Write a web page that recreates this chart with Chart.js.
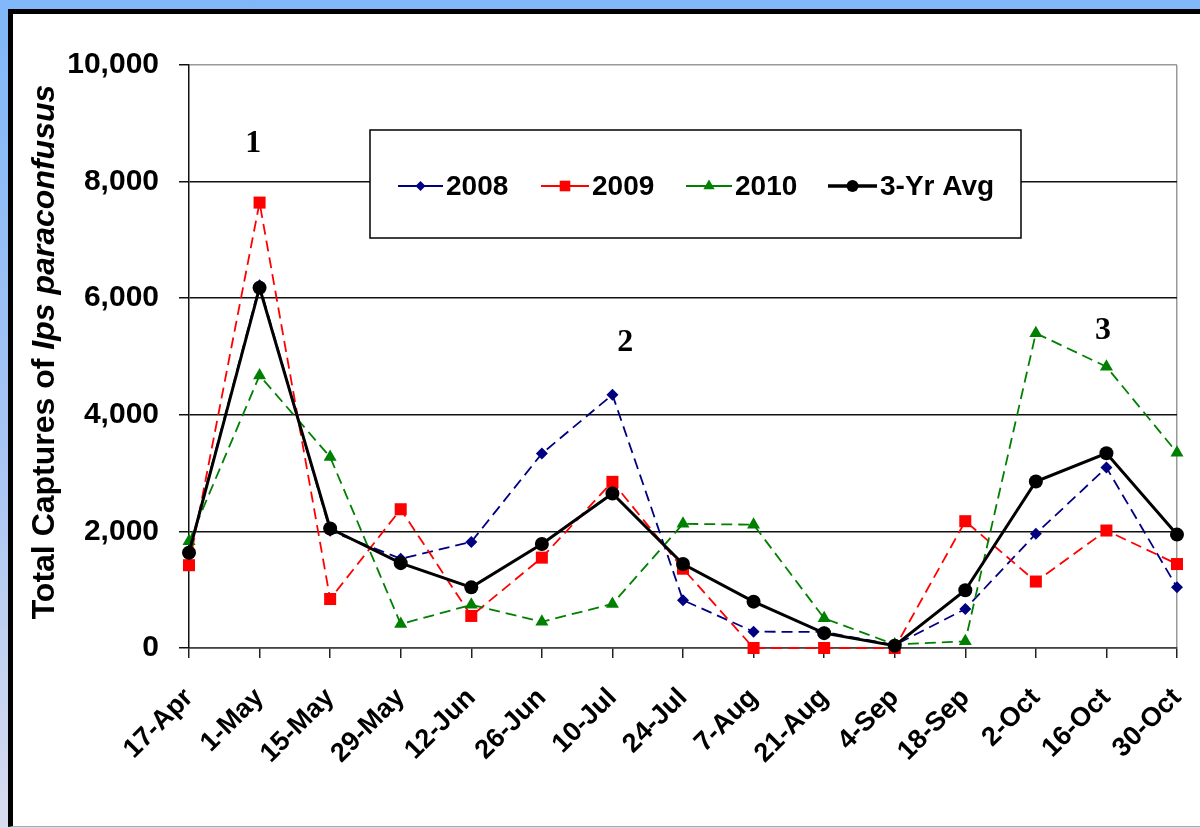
<!DOCTYPE html>
<html>
<head>
<meta charset="utf-8">
<script src="https://cdn.jsdelivr.net/npm/chart.js@4.4.1/dist/chart.umd.min.js"></script>
<style>
  html, body { margin: 0; padding: 0; }
  body {
    width: 1200px; height: 828px; position: relative; overflow: hidden;
    background: linear-gradient(to bottom, #7fb7f8 0%, #a8c5f3 55%, #d8dcef 100%);
  }
  #frame {
    position: absolute; left: 8px; top: 9px; right: 0; bottom: 1px;
    background: #fff; border-left: 5px solid #000; border-top: 5px solid #000;
    border-bottom: 1px solid #aaa;
  }
  #wrap { position: absolute; left: 0; top: 0; width: 1200px; height: 828px; }
</style>
</head>
<body>
<div id="frame"></div>
<div id="wrap"><canvas id="c" width="1200" height="828"></canvas></div>
<script>
const labels = ["17-Apr", "1-May", "15-May", "29-May", "12-Jun", "26-Jun", "10-Jul",
  "24-Jul", "7-Aug", "21-Aug", "4-Sep", "18-Sep", "2-Oct", "16-Oct", "30-Oct"];
const y2008 = [1650, 6220, 2010, 1530, 1820, 3335, 4345, 820, 280, 275, 50, 670, 1960, 3095, 1040];
const y2009 = [1420, 7640, 840, 2380, 550, 1550, 2850, 1360, 0, 0, 0, 2175, 1140, 2015, 1440];
const y2010 = [1830, 4675, 3275, 410, 740, 450, 755, 2130, 2115, 510, 60, 115, 5400, 4825, 3350];
const yAvg = [1635, 6180, 2050, 1455, 1040, 1785, 2650, 1440, 795, 255, 40, 990, 2855, 3340, 1945];
const yTicks = [0, 2000, 4000, 6000, 8000, 10000];

// numbered peaks (category position, value)
const peakText = ["1", "2", "3"];
const peakX = [0.91, 6.18, 12.95];
const peakY = [8650, 5230, 5450];

const FONT = "'Liberation Sans', Arial, sans-serif";
const SERIF = "'Liberation Serif', 'Times New Roman', serif";

const seriesStyle = [
  { label: "2008", color: "#000080", point: "rectRot", r: 6, lw: 1.8, dash: [11, 6] },
  { label: "2009", color: "#ff0000", point: "rect", r: 8.5, lw: 1.8, dash: [11, 6] },
  { label: "2010", color: "#008000", point: "triangle", r: 7.5, lw: 1.8, dash: [11, 6] },
  { label: "3-Yr Avg", color: "#000000", point: "circle", r: 7, lw: 3, dash: [] },
];
const seriesData = [y2008, y2009, y2010, yAvg];

const datasets = seriesStyle.map((s, i) => ({
  label: s.label,
  data: seriesData[i],
  borderColor: s.color,
  backgroundColor: s.color,
  borderWidth: s.lw,
  borderDash: s.dash,
  pointStyle: s.point,
  pointRadius: s.r,
  pointBorderWidth: 0,
  pointBackgroundColor: s.color,
  tension: 0,
  clip: false,
  order: 3 - i,
}));

const extras = {
  id: "extras",
  afterDraw(chart) {
    const ctx = chart.ctx;
    const xs = chart.scales.x, ys = chart.scales.y;
    ctx.save();

    // axis title with italic species name
    const a = "Total Captures of ", b = "Ips paraconfusus";
    ctx.translate(45, 352);
    ctx.rotate(-Math.PI / 2);
    ctx.fillStyle = "#000";
    ctx.textBaseline = "middle";
    ctx.font = "bold 32px " + FONT;
    const wa = ctx.measureText(a).width;
    ctx.font = "italic bold 32px " + FONT;
    const wb = ctx.measureText(b).width;
    let x0 = -(wa + wb) / 2;
    ctx.font = "bold 32px " + FONT;
    ctx.fillText(a, x0, 0);
    ctx.font = "italic bold 32px " + FONT;
    ctx.fillText(b, x0 + wa, 0);
    ctx.setTransform(1, 0, 0, 1, 0, 0);

    // peak numbers
    ctx.font = "bold 32px " + SERIF;
    ctx.textAlign = "center";
    ctx.textBaseline = "middle";
    peakText.forEach((t, i) => {
      ctx.fillText(t, xs.getPixelForValue(peakX[i]), ys.getPixelForValue(peakY[i]));
    });

    // legend box
    const bx = 370, by = 130, bw = 651, bh = 108, cy = 186;
    ctx.fillStyle = "#fff";
    ctx.fillRect(bx, by, bw, bh);
    ctx.strokeStyle = "#000";
    ctx.lineWidth = 1.5;
    ctx.strokeRect(bx, by, bw, bh);
    const items = [[398, 443], [541, 589], [686, 732], [828, 877]];
    ctx.textAlign = "left";
    ctx.font = "bold 28px " + FONT;
    seriesStyle.forEach((s, i) => {
      const [l, r] = items[i];
      ctx.strokeStyle = s.color;
      ctx.fillStyle = s.color;
      ctx.lineWidth = s.lw + 0.3;
      ctx.setLineDash([]);
      ctx.beginPath();
      ctx.moveTo(l, cy);
      ctx.lineTo(r, cy);
      ctx.stroke();
      Chart.helpers.drawPoint(ctx, { pointStyle: s.point, radius: s.r - 1, borderWidth: 0, rotation: 0 },
        (l + r) / 2, cy);
      ctx.fillStyle = "#000";
      ctx.fillText(s.label, r + 3, cy + 1);
    });
    ctx.restore();
  },
};

new Chart(document.getElementById("c"), {
  type: "line",
  data: { labels, datasets },
  options: {
    responsive: false,
    animation: false,
    layout: { padding: { left: 0, top: 65, right: 23, bottom: 0 } },
    plugins: { legend: { display: false }, tooltip: { enabled: false } },
    scales: {
      x: {
        ticks: {
          color: "#000", font: { family: FONT, size: 27, weight: "bold" },
          maxRotation: 45, minRotation: 45, autoSkip: false, padding: 24,
        },
        grid: {
          color: (c) => (c.index === labels.length - 1 ? "#999" : "rgba(0,0,0,0)"),
          tickColor: "#222", tickLength: 10, lineWidth: 1.5,
        },
        border: { color: "#444", width: 1.5 },
        afterFit: (s) => { s.height = 180; s.paddingLeft = 0; s.paddingRight = 0; },
      },
      y: {
        min: 0, max: 10000,
        afterBuildTicks: (s) => { s.ticks = yTicks.map((v) => ({ value: v })); },
        ticks: {
          color: "#000", font: { family: FONT, size: 30, weight: "bold" }, padding: 20,
          callback: (v) => v.toLocaleString("en-US"),
        },
        grid: {
          color: (c) => (c.tick && c.tick.value === 10000 ? "#999" : "#111"),
          tickColor: "#111", tickLength: 10, lineWidth: 1.5,
        },
        border: { color: "#111", width: 1.5 },
        afterFit: (s) => { s.width = 189; s.paddingTop = 0; s.paddingBottom = 0; },
      },
    },
  },
  plugins: [extras],
});
</script>
</body>
</html>
